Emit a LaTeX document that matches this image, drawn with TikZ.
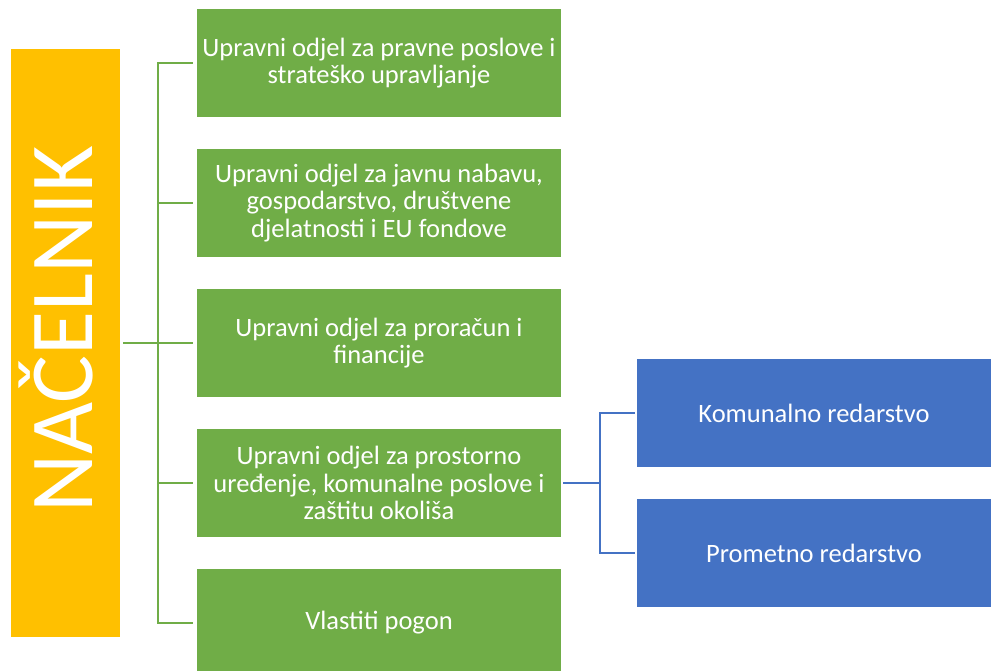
\documentclass[tikz,border=0pt]{standalone}
\usepackage{fontspec}
\setmainfont{Carlito}
\usetikzlibrary{positioning}
\definecolor{odjelgreen}{HTML}{70AD47}
\definecolor{nacelnikyellow}{HTML}{FFC000}
\definecolor{redarblue}{HTML}{4472C4}

\begin{document}
\begin{tikzpicture}[x=1pt, y=-1pt,
    odjel/.style={fill=odjelgreen, text=white, minimum width=364pt, minimum height=108pt, inner sep=0pt, align=center, font=\fontsize{26.5}{27.5}\selectfont},
    redar/.style={odjel, fill=redarblue, minimum width=354pt},
    greenline/.style={draw=odjelgreen, line width=2.2pt},
    blueline/.style={draw=redarblue, line width=2.2pt}]
    % Define parameters
    \def\rowStep{140}   % Vertical distance between the odjel boxes
    \def\odjelX{379}    % Centre of the odjel column
    \def\redarX{814}    % Centre of the redar column

    \useasboundingbox (0,0) rectangle (991,671);

    % Draw nacelnik
    \node[fill=nacelnikyellow, minimum width=109pt, minimum height=587pt, inner sep=0pt] (nacelnik) at (65.5,343) {};
    \node[rotate=90, anchor=base, text=white, inner sep=0pt, font=\fontsize{90}{90}\selectfont] (nacelniktext) at (92,329.5) {NAČELNIK};

    % Draw odjeli
    \foreach \i/\txt in {1/{Upravni odjel za pravne poslove i\\strateško upravljanje},
                         2/{Upravni odjel za javnu nabavu,\\gospodarstvo, društvene\\djelatnosti i EU fondove},
                         3/{Upravni odjel za proračun i\\financije},
                         4/{Upravni odjel za prostorno\\uređenje, komunalne poslove i\\zaštitu okoliša},
                         5/{Vlastiti pogon}} {
        \node[odjel] (odjel\i) at (\odjelX, {63+(\i-1)*\rowStep}) {\txt};
    }

    % Draw redarstva
    \node[redar] (redar1) at (\redarX, 413) {Komunalno redarstvo};
    \node[redar] (redar2) at (\redarX, 553) {Prometno redarstvo};

    % Green connectors
    \coordinate (spine) at (158,343);
    \draw[greenline, shorten <=3pt, shorten >=4pt] (nacelnik.east) -- (odjel3.west);
    \foreach \i in {1,...,5} {
        \draw[greenline, shorten >=4pt] (spine) |- (odjel\i.west);
    }

    % Blue connectors
    \coordinate (bluespine) at (600,483);
    \draw[blueline, shorten <=2pt] (odjel4.east) -- (bluespine);
    \foreach \i in {1,2} {
        \draw[blueline, shorten >=2pt] (bluespine) |- (redar\i.west);
    }
\end{tikzpicture}
\end{document}
